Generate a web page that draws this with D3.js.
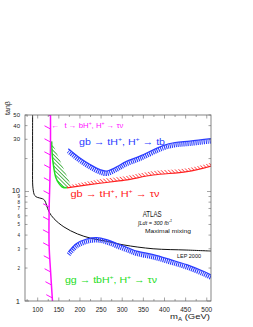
<!DOCTYPE html>
<html>
<head>
<meta charset="utf-8">
<script src="https://cdn.jsdelivr.net/npm/d3@7"></script>
<style>
body { margin: 0; background: #fff; }
svg { display: block; }
text { font-family: "Liberation Sans", Arial, sans-serif; }
</style>
</head>
<body>
<div id="chart"></div>
<script>
// LEP 2000 exclusion (black)
const lepMA = [88, 88, 89, 93, 99, 111, 116.5, 121, 127, 138.5, 162, 194, 225, 265, 304, 373, 453, 510];
const lepTB = [50, 20, 10.6, 9.2, 8.85, 8.6, 8.3, 7.5, 6.5, 5.65, 4.75, 4.1, 3.75, 3.5, 3.25, 3.0, 2.92, 2.86];

// t -> bH+, H+ -> tau nu (magenta)
const topMA = [130.3, 130.3, 129, 127, 127, 130.3, 135];
const topTB = [50, 26.6, 13, 6.5, 3.25, 1.92, 1];

// gg -> tbH+, H+ -> tau nu (green)
const ggMA = [133, 134.5, 138.5, 142.5, 150.5, 158, 169];
const ggTB = [28.7, 21.4, 16.2, 13.6, 11.8, 11.0, 10.8];
const ggEdgeMA = [178, 155, 133];
const ggEdgeTB = [11.6, 18.4, 28.7];

// gb -> tH+, H+ -> tau nu (red)
const gbTauMA = [169, 247, 306, 373, 453, 510];
const gbTauLow = [10.8, 11.9, 12.7, 14.15, 15.2, 17.1];
const gbTauHigh = [11.35, 12.97, 13.8, 15.4, 16.3, 18.3];

// gb -> tH+, H+ -> tb (blue, upper and lower)
const gbTbUpMA = [172.4, 200, 224, 247.4, 263, 288, 306.6, 342, 396.5, 425, 460, 510];
const gbTbUpTB = [23.6, 19.4, 16.9, 15.2, 14.75, 16.2, 17.8, 20.2, 25.2, 26.9, 27.7, 29.2];
const gbTbLowMA = [173, 192, 216, 239.6, 263, 290, 318, 334, 373.5, 414, 452.5, 492, 510];
const gbTbLowTB = [2.69, 3.21, 3.53, 3.64, 3.49, 3.18, 2.89, 2.74, 2.54, 2.29, 2.06, 1.79, 1.66];

const xTickLabels = [100, 150, 200, 250, 300, 350, 400, 450, 500];
const yTickLabels = [1, 2, 3, 4, 5, 6, 7, 8, 9, 10, 30, 40, 50];
const yTicks = [1, 2, 3, 4, 5, 6, 7, 8, 9, 10, 20, 30, 40, 50];

const W = 253, H = 327;
const box = { left: 25, right: 211, top: 115, bottom: 301 };

const x = d3.scaleLinear().domain([70, 510]).range([box.left, box.right]);
const y = d3.scaleLog().domain([1, 50]).range([box.bottom, box.top]);

const zip = (a, b) => a.map((v, i) => [v, b[i]]);
const line = d3.line()
	.x(d => x(d[0]))
	.y(d => y(d[1]))
	.curve(d3.curveCatmullRom.alpha(0.5));

const svg = d3.select('#chart').append('svg')
	.attr('width', W)
	.attr('height', H);

const defs = svg.append('defs');
defs.append('clipPath').attr('id', 'plot')
	.append('rect')
	.attr('x', box.left).attr('y', box.top)
	.attr('width', box.right - box.left).attr('height', box.bottom - box.top);

function hatch(id, color, step) {
	const p = defs.append('pattern')
		.attr('id', id)
		.attr('patternUnits', 'userSpaceOnUse')
		.attr('width', step).attr('height', step)
		.attr('patternTransform', 'rotate(-45)');
	p.append('line')
		.attr('x1', step / 2).attr('y1', 0)
		.attr('x2', step / 2).attr('y2', step)
		.attr('stroke', color)
		.attr('stroke-width', 0.8);
}
hatch('hG', '#2aa52a', 2.6);
hatch('hR', '#ff4040', 2.6);

const g = svg.append('g').attr('clip-path', 'url(#plot)');

// green hatched region
g.append('path')
	.attr('d', d3.line().x(d => x(d[0])).y(d => y(d[1])).curve(d3.curveLinearClosed)(
		zip(ggMA, ggTB).concat(zip(ggEdgeMA, ggEdgeTB))))
	.attr('fill', 'url(#hG)');

// red hatched band
g.append('path')
	.attr('d', d3.area()
		.x(d => x(d[0]))
		.y0(d => y(d[1]))
		.y1(d => y(d[2]))
		.curve(d3.curveCatmullRom.alpha(0.5))(gbTauMA.map((v, i) => [v, gbTauLow[i], gbTauHigh[i]])))
	.attr('fill', 'url(#hR)');

g.append('path')
	.attr('d', line(zip(gbTauMA, gbTauLow)))
	.attr('fill', 'none')
	.attr('stroke', '#ff2020')
	.attr('stroke-width', 1.2);

g.append('path')
	.attr('d', line(zip(ggMA, ggTB)))
	.attr('fill', 'none')
	.attr('stroke', '#22dd22')
	.attr('stroke-width', 1.5);

// LEP
g.append('path')
	.attr('d', line(zip(lepMA, lepTB)))
	.attr('fill', 'none')
	.attr('stroke', '#111')
	.attr('stroke-width', 1);

// blue combs: edge line with teeth hanging below
function comb(xs, ys, col) {
	const d = line(zip(xs, ys));
	g.append('path').attr('d', d)
		.attr('transform', 'translate(0,0.6)')
		.attr('fill', 'none')
		.attr('stroke', col)
		.attr('stroke-width', 4.6)
		.attr('stroke-dasharray', '1.1 0.9');
	g.append('path').attr('d', d)
		.attr('transform', 'translate(0,-2)')
		.attr('fill', 'none')
		.attr('stroke', col)
		.attr('stroke-width', 1.2);
}
comb(gbTbUpMA, gbTbUpTB, '#2a3cff');
comb(gbTbLowMA, gbTbLowTB, '#2a3cff');

// magenta limit with hatches on the left
const mag = g.append('path')
	.attr('d', line(zip(topMA, topTB)))
	.attr('fill', 'none')
	.attr('stroke', '#ff10ff')
	.attr('stroke-width', 1.5);
const mn = mag.node(), mL = mn.getTotalLength();
for (let s = 1; s < mL; s += 13) {
	const p = mn.getPointAtLength(s);
	g.append('line')
		.attr('x1', p.x).attr('y1', p.y)
		.attr('x2', p.x - 6).attr('y2', p.y - 3.2)
		.attr('stroke', '#ff10ff')
		.attr('stroke-width', 1);
}

// frame and ticks
const axisCol = '#666';
svg.append('rect')
	.attr('x', box.left).attr('y', box.top)
	.attr('width', box.right - box.left).attr('height', box.bottom - box.top)
	.attr('fill', 'none')
	.attr('stroke', axisCol)
	.attr('stroke-width', 0.8);

d3.range(75, 501, 25).forEach(v => {
	const len = v % 50 === 0 ? 3.5 : 2;
	svg.append('line').attr('x1', x(v)).attr('x2', x(v))
		.attr('y1', box.bottom).attr('y2', box.bottom - len)
		.attr('stroke', axisCol).attr('stroke-width', 0.6);
	svg.append('line').attr('x1', x(v)).attr('x2', x(v))
		.attr('y1', box.top).attr('y2', box.top + len)
		.attr('stroke', axisCol).attr('stroke-width', 0.6);
});
yTicks.forEach(v => {
	const len = (v === 1 || v === 10) ? 4 : 2.5;
	svg.append('line').attr('x1', box.left).attr('x2', box.left + len)
		.attr('y1', y(v)).attr('y2', y(v))
		.attr('stroke', axisCol).attr('stroke-width', 0.6);
	svg.append('line').attr('x1', box.right).attr('x2', box.right - len)
		.attr('y1', y(v)).attr('y2', y(v))
		.attr('stroke', axisCol).attr('stroke-width', 0.6);
});

svg.selectAll('text.xl')
	.data(xTickLabels)
	.enter().append('text')
	.classed('xl', true)
	.attr('x', d => x(d))
	.attr('y', 311.5)
	.attr('text-anchor', 'middle')
	.attr('font-size', 6.5)
	.attr('fill', '#222')
	.text(d => d);

const big = d => d === 1 || d === 10;
svg.selectAll('text.yl')
	.data(yTickLabels)
	.enter().append('text')
	.classed('yl', true)
	.attr('x', 20)
	.attr('y', d => y(d) + (d === 10 ? 1 : d === 1 ? 2.5 : d >= 30 ? 2.2 : 1.9))
	.attr('text-anchor', 'end')
	.attr('font-size', d => big(d) ? 7.5 : (d >= 30 ? 6 : 4.5))
	.attr('fill', '#222')
	.text(d => d);

// text with superscripts, parts starting with ^ are raised
function label(px, py, parts, size, color, len, extra) {
	const t = svg.append('text')
		.attr('x', px).attr('y', py)
		.attr('font-size', size)
		.attr('fill', color);
	let up = 0;
	parts.forEach(p => {
		const sup = p[0] === '^';
		const shift = sup ? -size * 0.4 : 0;
		const ts = t.append('tspan').attr('dy', shift - up).text(sup ? p.slice(1) : p);
		if (sup) ts.attr('font-size', size * 0.65);
		up = shift;
	});
	if (len) t.attr('textLength', len).attr('lengthAdjust', 'spacingAndGlyphs');
	if (extra) extra(t);
	return t;
}

label(79, 145, ['gb \u2192 tH', '^+', ', H', '^+', ' \u2192 tb'], 9, '#2a3cff', 86);
label(70.5, 196.5, ['gb \u2192 tH', '^+', ', H', '^+', ' \u2192 \u03c4\u03bd'], 9, '#ff2020', 89);
label(65, 283, ['gg \u2192 tbH', '^+', ', H', '^+', ' \u2192 \u03c4\u03bd'], 9, '#22dd22', 92);
label(51.5, 127.5, ['\u2190'], 7, '#ff10ff', 8);
label(64.5, 127.5, ['t \u2192 bH', '^+', ', H', '^+', ' \u2192 \u03c4\u03bd'], 7, '#ff10ff', 59);

label(142.7, 216.5, ['ATLAS'], 8.5, '#111', 19);
label(138, 224.5, ['\u222bLdt = 300 fb', '^-1'], 5.5, '#111', 34, t => t.attr('font-style', 'italic'));
label(145, 233, ['Maximal mixing'], 5.5, '#111', 46);
label(177, 258, ['LEP 2000'], 5, '#111', 24);

// axis titles
const mt = svg.append('text')
	.attr('x', 170).attr('y', 319)
	.attr('font-size', 7)
	.attr('fill', '#222')
	.attr('textLength', 40)
	.attr('lengthAdjust', 'spacingAndGlyphs');
mt.append('tspan').text('m');
mt.append('tspan').attr('dy', 1.5).attr('font-size', 4.5).text('A');
mt.append('tspan').attr('dy', -1.5).text(' (GeV)');

svg.append('text')
	.attr('transform', 'translate(10,108) rotate(-90)')
	.attr('text-anchor', 'middle')
	.attr('font-size', 7)
	.attr('fill', '#222')
	.text('tan\u03b2');
</script>
</body>
</html>
